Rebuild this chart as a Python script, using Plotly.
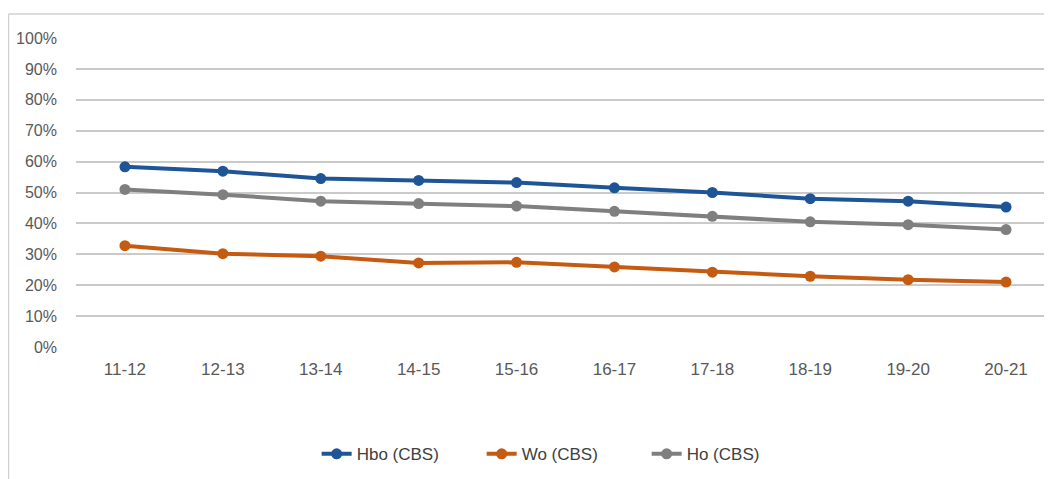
import plotly.graph_objects as go

categories = ["11-12", "12-13", "13-14", "14-15", "15-16", "16-17", "17-18", "18-19", "19-20", "20-21"]
hbo = [0.583, 0.569, 0.545, 0.539, 0.532, 0.515, 0.500, 0.480, 0.472, 0.453]
wo = [0.328, 0.302, 0.294, 0.272, 0.274, 0.259, 0.242, 0.229, 0.218, 0.210]
ho = [0.510, 0.493, 0.472, 0.464, 0.456, 0.439, 0.423, 0.405, 0.396, 0.380]
y_ticks = [i / 10 for i in range(11)]
y_labels = [f"{i*10}%" for i in range(11)]

series = [("Hbo (CBS)", hbo, "#1F5597"), ("Wo (CBS)", wo, "#C55A11"), ("Ho (CBS)", ho, "#7F7F7F")]

W, H = 1052, 479
ml, mr, mt, mb = 68, 5.3, 29.5, 140.3
pw = W - ml - mr
ph = H - mt - mb

fig = go.Figure()
for name, vals, col in series:
    fig.add_trace(go.Scatter(
        x=list(range(len(categories))), y=vals, name=name, mode="lines+markers",
        line=dict(color=col, width=4), marker=dict(color=col, size=11),
    ))

fam = "Liberation Sans, Arial, sans-serif"

fig.update_layout(
    width=W, height=H,
    margin=dict(l=ml, r=mr, t=mt, b=mb, pad=0),
    paper_bgcolor="white", plot_bgcolor="white",
    font=dict(family=fam, size=17, color="#595959"),
    showlegend=True,
    legend=dict(orientation="h", x=(556 - ml) / pw, xanchor="center",
                y=(H - mb - 446) / ph, yanchor="middle",
                font=dict(family=fam, size=17, color="#404040"), itemwidth=30,
                entrywidth=120, traceorder="normal"),
    xaxis=dict(
        range=[-0.5, 9.5], tickmode="array", tickvals=list(range(len(categories))),
        ticktext=categories, showgrid=False, zeroline=False, showline=False,
        ticks="", ticklabelstandoff=10, fixedrange=True,
        tickfont=dict(family=fam, size=17, color="#595959"),
    ),
    yaxis=dict(
        range=[0, 1], tickmode="array", tickvals=y_ticks, ticktext=y_labels,
        showgrid=True, gridcolor="#CACACA", gridwidth=1.5, zeroline=False,
        showline=False, ticks="", ticklabelstandoff=18, fixedrange=True,
        tickfont=dict(family=fam, size=16, color="#595959"),
    ),
)

# chart-area border (left and top edges visible)
bx = (0.5 - ml) / pw
by = (H - mb - 5.5) / ph
fig.add_shape(type="line", xref="paper", yref="paper", x0=bx, x1=bx, y0=by, y1=-(mb) / ph,
              line=dict(color="#D0D0D0", width=1.5))
fig.add_shape(type="line", xref="paper", yref="paper", x0=bx, x1=1.0 + mr / pw, y0=by, y1=by,
              line=dict(color="#D0D0D0", width=1.5))

fig.write_html("out.html")
